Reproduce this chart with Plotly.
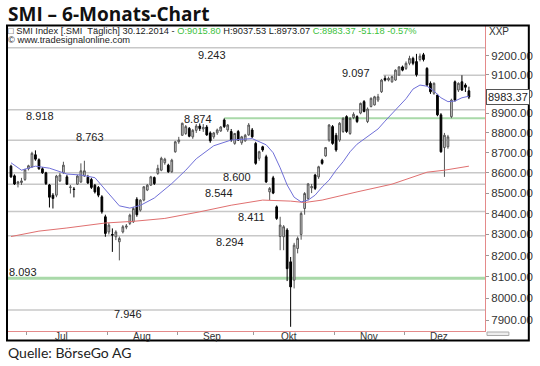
import math
import plotly.graph_objects as go

# ---------------- data ----------------
opens = [8633, 8585, 8548, 8552, 8567, 8620, 8630, 8690, 8665, 8620,
         8600, 8540, 8490, 8490, 8560, 8600, 8580, 8528, 8520, 8544,
         8555, 8584, 8578, 8567, 8539, 8528, 8482, 8385, 8312, 8300,
         8289, 8265, 8312, 8335, 8353, 8361, 8470, 8417, 8466, 8515,
         8539, 8577, 8597, 8613, 8650, 8638, 8605, 8705, 8755, 8788,
         8797, 8823, 8780, 8813, 8835, 8820, 8830, 8800, 8780, 8800,
         8810, 8866, 8815, 8807, 8747, 8807, 8750, 8760, 8790, 8815,
         8747, 8672, 8730, 8680, 8506, 8575, 8433, 8290, 8289, 8321,
         8170, 8084, 8233, 8300, 8425, 8474, 8526, 8589, 8580, 8663,
         8684, 8764, 8832, 8788, 8764, 8807, 8883, 8797, 8878, 8883,
         8901, 8960, 8858, 8935, 8943, 8968, 9011, 9081, 9072, 9063,
         9072, 9098, 9141, 9133, 9160, 9186, 9169, 9180, 9205, 9133,
         9055, 9003, 8994, 8892, 8726, 8730, 8883, 9063, 9020, 9063,
         9046, 9015.80]
highs = [8640, 8592, 8560, 8575, 8620, 8640, 8705, 8712, 8672, 8628,
         8605, 8545, 8500, 8590, 8600, 8655, 8590, 8540, 8530, 8590,
         8647, 8660, 8590, 8575, 8545, 8535, 8490, 8395, 8355, 8329,
         8320, 8290, 8345, 8350, 8400, 8433, 8480, 8470, 8535, 8545,
         8585, 8582, 8640, 8680, 8675, 8645, 8670, 8760, 8780, 8852,
         8840, 8830, 8820, 8845, 8848, 8845, 8840, 8808, 8805, 8822,
         8835, 8874, 8845, 8820, 8800, 8815, 8785, 8795, 8850, 8825,
         8755, 8710, 8735, 8690, 8530, 8585, 8440, 8385, 8345, 8330,
         8193, 8260, 8290, 8410, 8505, 8550, 8545, 8595, 8635, 8670,
         8729, 8845, 8840, 8800, 8855, 8880, 8890, 8880, 8905, 8890,
         8955, 8968, 8930, 8982, 8990, 9000, 9078, 9095, 9090, 9095,
         9128, 9145, 9148, 9170, 9200, 9195, 9210, 9212, 9215, 9140,
         9065, 9060, 9000, 8901, 8800, 8790, 8975, 9070, 9060, 9097,
         9055, 9037.53]
lows = [8575, 8540, 8528, 8540, 8560, 8612, 8625, 8660, 8615, 8595,
        8540, 8430, 8425, 8480, 8555, 8595, 8540, 8498, 8479, 8540,
        8550, 8580, 8545, 8520, 8498, 8480, 8400, 8289, 8300, 8217,
        8273, 8177, 8305, 8325, 8345, 8355, 8385, 8410, 8460, 8510,
        8535, 8540, 8590, 8608, 8640, 8600, 8600, 8700, 8745, 8785,
        8790, 8778, 8770, 8800, 8810, 8805, 8785, 8750, 8770, 8790,
        8805, 8825, 8805, 8755, 8740, 8760, 8740, 8755, 8785, 8775,
        8640, 8660, 8705, 8550, 8466, 8495, 8370, 8225, 8225, 8080,
        7870, 8046, 8210, 8275, 8395, 8465, 8500, 8515, 8570, 8640,
        8680, 8755, 8740, 8705, 8755, 8800, 8800, 8790, 8870, 8850,
        8895, 8905, 8850, 8930, 8940, 8958, 9005, 9065, 9065, 9058,
        9068, 9095, 9118, 9125, 9150, 9150, 9090, 9170, 9170, 9040,
        9000, 8995, 8885, 8700, 8580, 8720, 8875, 8960, 9010, 9015,
        9010, 8973.07]
closes = [8580, 8545, 8555, 8560, 8615, 8635, 8697, 8668, 8620, 8600,
          8547, 8480, 8474, 8584, 8589, 8638, 8544, 8530, 8518, 8584,
          8610, 8610, 8550, 8528, 8506, 8490, 8409, 8305, 8345, 8297,
          8312, 8281, 8337, 8340, 8393, 8425, 8395, 8466, 8531, 8539,
          8580, 8547, 8622, 8672, 8668, 8605, 8663, 8755, 8764, 8849,
          8832, 8783, 8813, 8835, 8822, 8828, 8790, 8760, 8800, 8815,
          8830, 8832, 8840, 8764, 8797, 8764, 8780, 8788, 8840, 8780,
          8647, 8705, 8714, 8555, 8523, 8500, 8377, 8345, 8337, 8138,
          8053, 8249, 8281, 8401, 8498, 8545, 8532, 8523, 8630, 8647,
          8726, 8840, 8747, 8714, 8849, 8874, 8807, 8874, 8895, 8858,
          8951, 8909, 8922, 8977, 8985, 8985, 9072, 9072, 9081, 9090,
          9124, 9141, 9124, 9160, 9186, 9160, 9100, 9198, 9180, 9046,
          9011, 9055, 8892, 8705, 8788, 8780, 8968, 8968, 9055, 9020,
          9034.55, 8983.37]

# trading days per month (5 June days before July)
june_days = 5
months = ["Jul", "Aug", "Sep", "Okt", "Nov", "Dez"]
month_days = [23, 20, 22, 23, 20, 19]

# moving averages (trading-day index, value)
ma_fast_x = [0, 3, 7, 11, 16, 20, 24, 28, 31, 34, 37, 41, 46, 50, 53, 58, 63, 69,
             73, 75, 77, 79, 81, 83, 85, 87, 89, 91, 93, 95, 97, 99, 101, 103,
             105, 107, 109, 111, 113, 115, 117, 119, 121, 123, 125, 127, 129, 131]
ma_fast_y = [8650, 8613, 8633, 8623, 8594, 8589, 8576, 8495, 8438, 8427, 8440, 8476,
             8547, 8613, 8670, 8735, 8764, 8771, 8740, 8700, 8625, 8540, 8480, 8457,
             8466, 8490, 8530, 8564, 8613, 8655, 8705, 8743, 8768, 8795, 8820, 8860,
             8900, 8940, 8975, 9025, 9046, 9040, 9015, 8980, 8960, 8963, 8980, 8988]
ma_slow_x = [0, 8, 16, 27, 35, 44, 54, 63, 72, 80, 84, 89, 99, 109, 119, 124, 131]
ma_slow_y = [8290, 8316, 8331, 8355, 8363, 8377, 8409, 8441, 8466, 8461, 8454, 8466,
             8506, 8544, 8603, 8613, 8633]

# support / resistance levels
levels = [9243, 9097, 8918, 8874, 8763, 8600, 8544, 8411, 8294, 8093, 7946]
level_green = [False, False, False, True, False, False, False, False, False, True, False]

y_ticks = [7900, 8000, 8100, 8200, 8300, 8400, 8500, 8600, 8700, 8800, 8900, 9000, 9100, 9200]

# ---------------- layout helpers (positions only) ----------------
level_start = [None, 106.5, None, 61, None, None, None, None, None, None, None]
label_x = [57.5, 98.6, 8.3, 53.6, 22.5, 64.7, 59.5, 68.7, 62.7, 3.4, 33.6]
label_shift = [-7, 2, -6, -1, 3, -4, -9, -6, -6, 6, -4]

x_range = [-1.14, 135.6]
y_range = [math.log10(7851), math.log10(9359)]

idx = list(range(len(closes)))

fig = go.Figure()

fig.add_trace(go.Candlestick(
    x=idx, open=opens, high=highs, low=lows, close=closes,
    increasing=dict(line=dict(color="#555555", width=1), fillcolor="#d4d4d4"),
    decreasing=dict(line=dict(color="#000000", width=1), fillcolor="#000000"),
    whiskerwidth=0, showlegend=False, hoverinfo="skip"))

fig.add_trace(go.Scatter(x=ma_slow_x, y=ma_slow_y, mode="lines",
                         line=dict(color="#e07070", width=1), showlegend=False, hoverinfo="skip"))
fig.add_trace(go.Scatter(x=ma_fast_x, y=ma_fast_y, mode="lines",
                         line=dict(color="#7070d8", width=1), showlegend=False, hoverinfo="skip"))

shapes = []
for lv, green, st in zip(levels, level_green, level_start):
    if green:
        col, w = "#a9d9a9", (3 if st is None else 2)
    else:
        col, w = "#c8c8c8", 1.5
    shapes.append(dict(type="line", xref="x", yref="y",
                       x0=x_range[0] if st is None else st, x1=x_range[1],
                       y0=lv, y1=lv, line=dict(color=col, width=w), layer="below"))

# outer frame
plot_l, plot_r, plot_t, plot_b = 7, 487, 26, 331
pw, ph = plot_r - plot_l, plot_b - plot_t
def px(x):
    return (x - plot_l) / pw
def py(y):
    return (plot_b - y) / ph
shapes.append(dict(type="rect", xref="paper", yref="paper",
                   x0=px(7), x1=px(531), y0=py(340.5), y1=py(25.5),
                   line=dict(color="#000000", width=2), layer="above"))
# small scroll widget at bottom right
shapes.append(dict(type="rect", xref="paper", yref="paper",
                   x0=px(489), x1=px(511), y0=py(335.5), y1=py(332),
                   line=dict(color="#aaaaaa", width=1), fillcolor="#eeeeee", layer="above"))

annotations = []
for lv, lx, sh in zip(levels, label_x, label_shift):
    annotations.append(dict(x=lx, y=math.log10(lv), xref="x", yref="y",
                            text=f"{lv:,}".replace(",", "."), showarrow=False,
                            yshift=sh, font=dict(family="Liberation Sans", size=11, color="#222222")))

# month labels
starts = []
s = june_days
for d in month_days:
    starts.append(s)
    s += d
label_pos = [st + 9.5 for st in starts]
bounds = [st - 0.5 for st in starts]
for m, lp in zip(months, label_pos):
    annotations.append(dict(x=lp, y=py(336.5), xref="x", yref="paper", text=m,
                            showarrow=False, yanchor="middle",
                            font=dict(family="Liberation Sans", size=10, color="#333333")))

# header
o, h, l, c = opens[-1], highs[-1], lows[-1], closes[-1]
chg = c - closes[-2]
pct = chg / closes[-2] * 100
green = "#3cbf3c"
hdr = (f"□ SMI Index [.SMI  Täglich] 30.12.2014 - "
       f"<span style='color:{green}'>O:{o:.2f}</span> H:{h:.2f} L:{l:.2f} "
       f"<span style='color:{green}'>C:{c:.2f} {chg:.2f} {pct:.2f}%</span>")
annotations.append(dict(x=px(6), y=py(31), xref="paper", yref="paper", text=hdr,
                        showarrow=False, xanchor="left", yanchor="middle",
                        font=dict(family="Liberation Sans", size=9.3, color="#222222")))
annotations.append(dict(x=px(6), y=py(40.5), xref="paper", yref="paper",
                        text="© www.tradesignalonline.com",
                        showarrow=False, xanchor="left", yanchor="middle",
                        font=dict(family="Liberation Sans", size=9.3, color="#222222")))
annotations.append(dict(x=px(489), y=py(31), xref="paper", yref="paper", text="XXP",
                        showarrow=False, xanchor="left", yanchor="middle",
                        font=dict(family="Liberation Sans", size=10, color="#333333")))
# last price box
annotations.append(dict(x=px(488), y=math.log10(c), xref="paper", yref="y",
                        text=f"{c:.2f}", showarrow=False, xanchor="left", yanchor="middle",
                        bgcolor="#ffffff", bordercolor="#555555", borderwidth=1, borderpad=1,
                        font=dict(family="Liberation Sans", size=11, color="#222222")))
# title and source
annotations.append(dict(x=px(6), y=py(14), xref="paper", yref="paper",
                        text="<b>SMI – 6-Monats-Chart</b>", showarrow=False,
                        xanchor="left", yanchor="middle",
                        font=dict(family="Open Sans", size=19, color="#111111")))
annotations.append(dict(x=px(6), y=py(352), xref="paper", yref="paper",
                        text="Quelle: BörseGo AG", showarrow=False,
                        xanchor="left", yanchor="middle",
                        font=dict(family="Lato", size=14, color="#222222")))

fig.update_layout(
    width=540, height=366,
    margin=dict(l=plot_l, r=540 - plot_r, t=plot_t, b=366 - plot_b),
    paper_bgcolor="#ffffff", plot_bgcolor="#ffffff",
    shapes=shapes, annotations=annotations, showlegend=False,
    xaxis=dict(range=x_range, rangeslider=dict(visible=False),
               showgrid=False, zeroline=False, showline=True, linecolor="#e48a8a", linewidth=1,
               showticklabels=False, tickmode="array", tickvals=bounds, ticks="outside",
               ticklen=3, tickcolor="#999999"),
    yaxis=dict(type="log", range=y_range, side="right", showgrid=False, zeroline=False,
               showline=True, linecolor="#e48a8a", linewidth=1,
               tickmode="array", tickvals=y_ticks, ticktext=[f"{v:.2f}" for v in y_ticks],
               ticks="outside", ticklen=3, tickcolor="#999999",
               tickfont=dict(family="Liberation Sans", size=11.5, color="#333333")),
)

fig.write_html("out.html", config={"displayModeBar": False},
               post_script="document.body.style.margin='0';")
